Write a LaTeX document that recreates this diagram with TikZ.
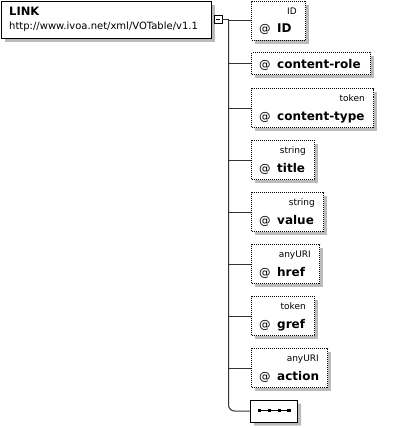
\documentclass[tikz,border=0pt]{standalone}
\usepackage{fontspec}
\setmainfont{DejaVu Sans}
\usetikzlibrary{shapes.misc,shadows}
\definecolor{shade}{HTML}{BBBBBB}
\definecolor{wire}{HTML}{333333}
\tikzset{
	boxshade/.style={drop shadow={shadow xshift=3.5pt, shadow yshift=-3.5pt, opacity=1, fill=shade}},
	elembox/.style={draw, line width=1.3pt, fill=white, inner sep=0pt, anchor=north west, boxshade},
	attrbox/.style={draw, densely dotted, line width=1pt, fill=white, inner sep=0pt, anchor=north west, boxshade},
	typelabel/.style={inner sep=0pt, font=\fontsize{9}{11}\selectfont},
	attrname/.style={inner sep=0pt, font=\fontsize{11.5}{14}\selectfont},
	conn/.style={draw=wire, line width=1pt}
}
\begin{document}
\begin{tikzpicture}[x=1pt, y=-1pt]
	\useasboundingbox (0,0) rectangle (415,428);
	% Element
	\node[elembox, minimum width=210, minimum height=37] (link) at (0.7,0.7) {};
	\node[inner sep=0pt, anchor=base west, font=\fontsize{11.5}{14}\selectfont\bfseries] (linkname) at (9,16) {LINK};
	\node[inner sep=0pt, anchor=base west, font=\fontsize{10}{12}\selectfont] (linkns) at (9,30) {http://www.ivoa.net/xml/VOTable/v1.1};
	
	% Fold sign
	\node[draw, line width=0.8pt, fill=white, minimum size=8, inner sep=0pt] (fold) at (218,19.5) {};
	\draw[line width=0.8pt] ([xshift=-2.2pt]fold.center) -- ([xshift=2.2pt]fold.center);
	\coordinate (spinetop) at (228.5,19.5);
	\coordinate (spinebot) at (228.5,411);
	
	% Attributes
	\foreach \key/\nm/\typ/\ytop/\bw in {id/ID/ID/0.6/54, ctype/content-type/token/88/122, title/title/string/140/63, value/value/string/192/72, href/href/anyURI/244/68, gref/gref/token/296/63, action/action/anyURI/348/76}{
		\node[attrbox, minimum width=\bw, minimum height=39] (\key) at (251,\ytop) {};
		\node[typelabel, anchor=base east] (\key type) at ([xshift=-9pt, yshift=-13.5pt]\key.north east) {\typ};
		\node[attrname, anchor=base west] (\key name) at ([xshift=8pt, yshift=-32pt]\key.north west) {\makebox[18pt][l]{@}\textbf{\fontsize{12}{14}\selectfont\nm}};
		\draw[conn] (spinetop |- \key.west) -- (\key.west);
	}
	
	% Attribute without type
	\node[attrbox, minimum width=119, minimum height=22] (crole) at (251,52) {};
	\node[attrname, anchor=base west] (crolename) at ([xshift=8pt, yshift=-4.5pt]crole.west) {\makebox[18pt][l]{@}\textbf{\fontsize{12}{14}\selectfont content-role}};
	\draw[conn] (spinetop |- crole.west) -- (crole.west);
	
	% Any attribute
	\node[chamfered rectangle, chamfered rectangle xsep=5pt, chamfered rectangle ysep=5pt, draw, line width=1pt, fill=white, inner sep=0pt, minimum width=47, minimum height=22, boxshade] (anyattr) at (274,411) {};
	\draw[line width=1pt] (258,410.5) -- (290,410.5);
	\foreach \x in {259.5,269.5,279.5,289}{
		\fill (\x-1.8,409) rectangle (\x+1.8,412.3);
	}
	
	% Spine
	\draw[conn] (fold.east) -- (spinetop);
	\draw[conn, rounded corners=6pt] (spinetop) -- (spinebot) -- (anyattr.west);
\end{tikzpicture}
\end{document}
